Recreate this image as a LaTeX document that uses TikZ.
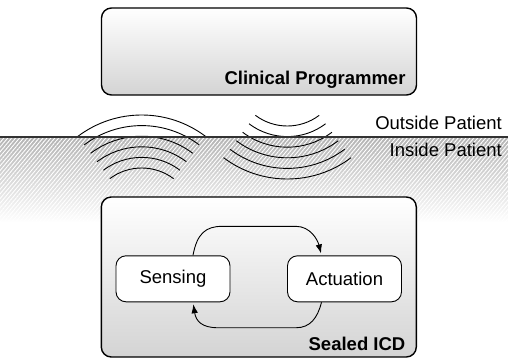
\documentclass[tikz,border=0pt]{standalone}
\usepackage{fontspec}
\setmainfont{Liberation Sans}
\usetikzlibrary{arrows.meta,patterns.meta,positioning}

\begin{document}
\begin{tikzpicture}[
    x=1pt, y=1pt,
    every node/.style={font=\fontsize{18.5}{22}\selectfont},
    bigbox/.style={draw, line width=1.4pt, rounded corners=10pt, top color=white, bottom color=black!17, minimum width=315pt},
    statebox/.style={draw, line width=0.9pt, rounded corners=10pt, fill=white, minimum width=114pt, minimum height=46pt},
    boxlabel/.style={anchor=base east, inner sep=0pt, font=\fontsize{18.5}{22}\selectfont\bfseries},
    zonelabel/.style={anchor=base east, inner sep=0pt},
    flow/.style={line width=0.9pt, -{Latex[length=9pt,width=6.5pt]}, shorten >=2pt},
    wave/.style={line width=0.9pt}
    ]

    \useasboundingbox (0,0) rectangle (508,362);

    % skin line, shaded below
    \shade[top color=black!30, bottom color=white] (0,140) rectangle (508,225);
    \fill[pattern={Lines[angle=50,distance=3pt,line width=0.9pt]}, pattern color=white] (0,140) rectangle (508,225);

    % radio waves
    \foreach \r in {53,63.6,74.2,84.8,95.4,106}{
      \draw[wave] ([shift={(53:\r)}]141.7,141) arc[start angle=53, end angle=127, radius=\r];
      \draw[wave] ([shift={(233:\r)}]287.3,289) arc[start angle=233, end angle=307, radius=\r];
    }

    \draw[line width=1.3pt, black!80] (0,225) -- (508,225);
    \node[zonelabel] (outside) at (502,232.5) {Outside Patient};
    \node[zonelabel] (inside) at (502,205.5) {Inside Patient};

    % boxes
    \node[bigbox, minimum height=87pt] (prog) at (259,310.5) {};
    \node[boxlabel] (progname) at ([shift={(-11.5pt,11pt)}]prog.south east) {Clinical Programmer};

    \node[bigbox, minimum height=160pt] (icd) at (258.8,85) {};
    \node[boxlabel] (icdname) at ([shift={(-11.5pt,7.5pt)}]icd.south east) {Sealed ICD};

    \node[statebox] (sense) at (173,83.2) {Sensing};
    \node[statebox] (act) at (344.5,83.2) {Actuation};

    \draw[flow] ([xshift=20pt]sense.north) .. controls +(4,22) and +(-16,0) .. ([shift={(49pt,29pt)}]sense.north)
      -- ([shift={(-48.5pt,29pt)}]act.north) .. controls +(14,0) and +(-4,16) .. ([xshift=-23pt]act.north);
    \draw[flow] ([xshift=-23pt]act.south) .. controls +(-4,-16) and +(14,0) .. ([shift={(-48.5pt,-25.5pt)}]act.south)
      -- ([shift={(45pt,-25.5pt)}]sense.south) .. controls +(-16,0) and +(3,-19) .. ([xshift=20pt]sense.south);

\end{tikzpicture}
\end{document}
